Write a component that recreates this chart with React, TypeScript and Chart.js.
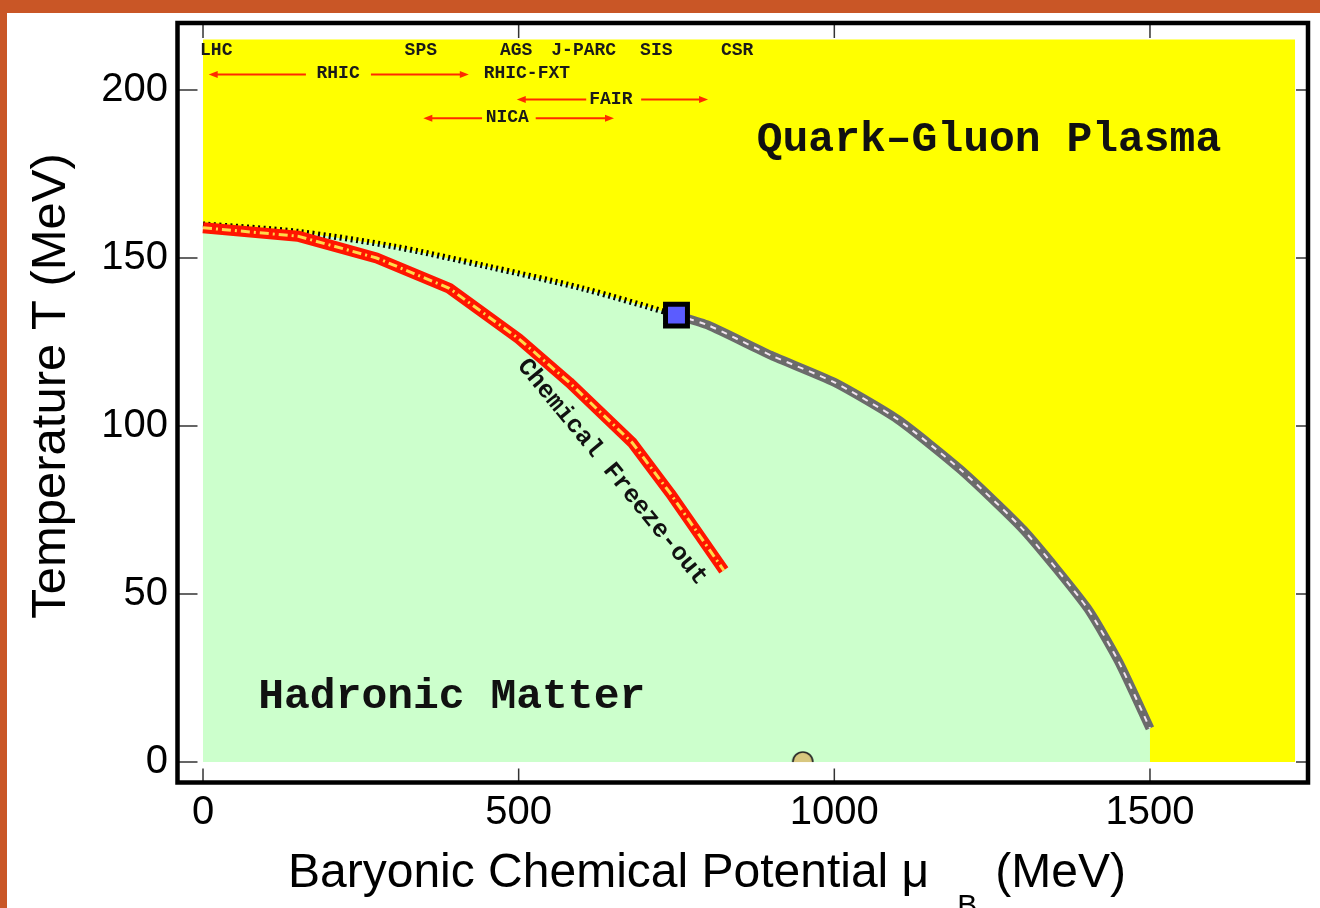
import React, { useEffect, useRef } from "react";
import { Chart, registerables } from "chart.js";

Chart.register(...registerables);

// ---------- data ----------
const xTickValues = [0, 500, 1000, 1500];
const yTickValues = [0, 50, 100, 150, 200];

// chemical freeze-out curve (muB, T)
const freezeOutMuB = [0, 150, 275, 390, 500, 580, 680, 740, 825];
const freezeOutT = [159, 156.5, 150, 141, 126, 113, 95, 80, 57];

// crossover (dotted) from muB = 0 up to critical point
const crossoverMuB = [0, 150, 300, 450, 600, 750];
const crossoverT = [160, 157.8, 153.5, 147.5, 141, 133];

// first-order transition (grey) from critical point to T ~ 0
const transitionMuB = [750, 800, 900, 1000, 1100, 1200, 1300, 1400, 1450, 1500];
const transitionT = [133, 130, 121, 113, 102, 87, 69, 46, 30, 10];

// critical point & nuclear matter
const criticalMuB = [750];
const criticalT = [133];
const nuclearMuB = [950];
const nuclearT = [0];

// QGP (yellow) region extent
const qgpMuB = [0, 1730];
const qgpT = [215, 215];

// facility labels (top row)
const facilityNames = ["LHC", "SPS", "AGS", "J-PARC", "SIS", "CSR"];
const facilityMuB = [21, 345, 496, 603, 718, 846];
const facilityT = [211.9, 211.9, 211.9, 211.9, 211.9, 211.9];

// program labels with arrows
const programNames = ["RHIC", "RHIC-FXT", "FAIR", "NICA"];
const programMuB = [214, 513, 646, 482];
const programT = [205, 205, 197.3, 191.7];

const arrowFromMuB = [163, 266, 607, 694, 442, 527];
const arrowToMuB = [9, 421, 497, 800, 349, 651];
const arrowT = [204.6, 204.6, 197.2, 197.2, 191.6, 191.6];

// region / curve labels
const regionNames = ["Quark\u2013Gluon Plasma", "Hadronic Matter"];
const regionMuB = [1245, 394];
const regionT = [185, 19.3];
const curveLabel = "Chemical Freeze-out";
const curveLabelMuB = 648;
const curveLabelT = 86.3;

// axis ranges
const X_MIN = -40.4;
const X_MAX = 1750.3;
const Y_MIN = -6.1;
const Y_MAX = 219.94;

const SANS = "'Liberation Sans', Arial, Helvetica, sans-serif";
const MONO = "'Liberation Mono', 'Courier New', Courier, monospace";

const pts = (xs: number[], ys: number[]) => xs.map((x, i) => ({ x, y: ys[i] }));

function makeHalfDisk(): HTMLCanvasElement {
  const c = document.createElement("canvas");
  c.width = 26;
  c.height = 26;
  const g = c.getContext("2d")!;
  g.beginPath();
  g.arc(13, 13, 10, Math.PI, 2 * Math.PI);
  g.closePath();
  g.fillStyle = "#d8c77f";
  g.fill();
  g.beginPath();
  g.arc(13, 13, 10, Math.PI, 2 * Math.PI);
  g.strokeStyle = "#222";
  g.lineWidth = 1.6;
  g.stroke();
  return c;
}

function drawArrow(ctx: CanvasRenderingContext2D, x1: number, y1: number, x2: number, y2: number) {
  const dir = Math.sign(x2 - x1);
  ctx.beginPath();
  ctx.moveTo(x1, y1);
  ctx.lineTo(x2 - dir * 6, y2);
  ctx.stroke();
  ctx.beginPath();
  ctx.moveTo(x2, y2);
  ctx.lineTo(x2 - dir * 9, y2 - 3.5);
  ctx.lineTo(x2 - dir * 9, y2 + 3.5);
  ctx.closePath();
  ctx.fill();
}

const overlayPlugin = {
  id: "overlay",
  beforeDraw(chart: any) {
    const ctx = chart.ctx as CanvasRenderingContext2D;
    ctx.save();
    ctx.fillStyle = "#ffffff";
    ctx.fillRect(0, 0, chart.width, chart.height);
    ctx.fillStyle = "#c95626";
    ctx.fillRect(0, 0, chart.width, 13);
    ctx.fillRect(0, 0, 7, chart.height);
    ctx.restore();
  },
  afterDatasetsDraw(chart: any) {
    const ctx = chart.ctx as CanvasRenderingContext2D;
    const xs = chart.scales.x;
    const ys = chart.scales.y;
    ctx.save();
    ctx.fillStyle = "#1a1a1a";
    ctx.textAlign = "center";
    ctx.textBaseline = "middle";
    ctx.font = `bold 18px ${MONO}`;
    facilityNames.forEach((n, i) => {
      ctx.fillText(n, xs.getPixelForValue(facilityMuB[i]), ys.getPixelForValue(facilityT[i]));
    });
    programNames.forEach((n, i) => {
      ctx.fillText(n, xs.getPixelForValue(programMuB[i]), ys.getPixelForValue(programT[i]));
    });
    ctx.strokeStyle = "#ff2a00";
    ctx.fillStyle = "#ff2a00";
    ctx.lineWidth = 2;
    arrowFromMuB.forEach((f, i) => {
      const y = ys.getPixelForValue(arrowT[i]);
      drawArrow(ctx, xs.getPixelForValue(f), y, xs.getPixelForValue(arrowToMuB[i]), y);
    });

    ctx.fillStyle = "#111";
    ctx.font = `bold 43px ${MONO}`;
    regionNames.forEach((n, i) => {
      ctx.fillText(n, xs.getPixelForValue(regionMuB[i]), ys.getPixelForValue(regionT[i]));
    });

    ctx.save();
    ctx.translate(xs.getPixelForValue(curveLabelMuB), ys.getPixelForValue(curveLabelT));
    ctx.rotate((50.6 * Math.PI) / 180);
    ctx.font = `bold 25px ${MONO}`;
    ctx.fillText(curveLabel, 0, 0);
    ctx.restore();
    ctx.restore();
  },
  afterDraw(chart: any) {
    const ctx = chart.ctx as CanvasRenderingContext2D;
    const a = chart.chartArea;
    const xs = chart.scales.x;
    const ys = chart.scales.y;
    ctx.save();
    // ticks (inward)
    ctx.strokeStyle = "#333";
    ctx.lineWidth = 1.5;
    xTickValues.forEach((v) => {
      const x = xs.getPixelForValue(v);
      ctx.beginPath();
      ctx.moveTo(x, a.bottom);
      ctx.lineTo(x, a.bottom - 14);
      ctx.moveTo(x, a.top);
      ctx.lineTo(x, a.top + 15);
      ctx.stroke();
    });
    yTickValues.forEach((v) => {
      const y = ys.getPixelForValue(v);
      ctx.beginPath();
      ctx.moveTo(a.left, y);
      ctx.lineTo(a.left + 20, y);
      ctx.moveTo(a.right, y);
      ctx.lineTo(a.right - 12, y);
      ctx.stroke();
    });
    // frame
    ctx.strokeStyle = "#000";
    ctx.lineWidth = 4.5;
    ctx.strokeRect(a.left, a.top, a.right - a.left, a.bottom - a.top);

    // axis titles
    ctx.fillStyle = "#000";
    ctx.font = `49px ${SANS}`;
    ctx.textBaseline = "alphabetic";
    ctx.save();
    ctx.translate(65, 386);
    ctx.rotate(-Math.PI / 2);
    ctx.textAlign = "center";
    ctx.fillText("Temperature T (MeV)", 0, 0);
    ctx.restore();

    ctx.textAlign = "left";
    const part1 = "Baryonic Chemical Potential \u03bc";
    const x0 = 288;
    const base = 887;
    ctx.font = `48px ${SANS}`;
    ctx.fillText(part1, x0, base);
    const w1 = ctx.measureText(part1).width;
    const subX = x0 + w1 + 28;
    ctx.font = `30px ${SANS}`;
    ctx.fillText("B", subX, base + 28);
    const wB = ctx.measureText("B").width;
    ctx.font = `48px ${SANS}`;
    ctx.fillText("(MeV)", subX + wB + 18, base);
    ctx.restore();
  },
};

const zeroPad = (s: any) => {
  s.paddingLeft = 0;
  s.paddingRight = 0;
  s.paddingTop = 0;
  s.paddingBottom = 0;
};

export default function App() {
  const ref = useRef<HTMLCanvasElement | null>(null);
  useEffect(() => {
    document.body.style.margin = "0";
    const canvas = ref.current!;
    const halfDisk = makeHalfDisk();
    const lastT = transitionMuB[transitionMuB.length - 1];
    const hadronBoundary = [
      ...pts(crossoverMuB, crossoverT),
      ...pts(transitionMuB.slice(1), transitionT.slice(1)),
      { x: lastT, y: 0 },
    ];
    const noPt = { pointRadius: 0, pointHoverRadius: 0 };
    const chart = new Chart(canvas, {
      type: "line",
      data: {
        datasets: [
          {
            label: "QGP",
            data: pts(qgpMuB, qgpT),
            fill: "origin",
            backgroundColor: "#ffff00",
            borderColor: "rgba(0,0,0,0)",
            borderWidth: 0,
            order: 20,
            ...noPt,
          },
          {
            label: "Hadronic",
            data: hadronBoundary,
            fill: "origin",
            backgroundColor: "#ccffcc",
            borderColor: "rgba(0,0,0,0)",
            borderWidth: 0,
            order: 19,
            ...noPt,
          },
          {
            label: "Crossover",
            data: pts(crossoverMuB, crossoverT),
            borderColor: "#000",
            borderWidth: 6,
            borderDash: [2, 3.5],
            borderCapStyle: "butt",
            fill: false,
            tension: 0.3,
            order: 12,
            ...noPt,
          },
          {
            label: "Transition",
            data: pts(transitionMuB, transitionT),
            borderColor: "#6b6b6b",
            borderWidth: 9,
            borderCapStyle: "butt",
            borderJoinStyle: "round",
            fill: false,
            tension: 0.2,
            order: 11,
            ...noPt,
          },
          {
            label: "Transition inner",
            data: pts(transitionMuB, transitionT),
            borderColor: "#f2e4f0",
            borderWidth: 2,
            borderDash: [6, 6],
            fill: false,
            tension: 0.2,
            order: 10,
            ...noPt,
          },
          {
            label: "Freeze-out",
            data: pts(freezeOutMuB, freezeOutT),
            borderColor: "#ff1500",
            borderWidth: 11,
            borderCapStyle: "butt",
            borderJoinStyle: "round",
            fill: false,
            order: 6,
            ...noPt,
          },
          {
            label: "Freeze-out inner",
            data: pts(freezeOutMuB, freezeOutT),
            borderColor: "#ffd94a",
            borderWidth: 3,
            borderDash: [9, 4, 2, 4],
            fill: false,
            order: 5,
            ...noPt,
          },
          {
            label: "Nuclear matter",
            data: pts(nuclearMuB, nuclearT),
            showLine: false,
            pointStyle: halfDisk as any,
            pointRadius: 10,
            order: 2,
            clip: false as any,
          },
          {
            label: "Critical point",
            data: pts(criticalMuB, criticalT),
            showLine: false,
            pointStyle: "rect",
            pointRadius: 15.5,
            pointBackgroundColor: "#5b5cff",
            pointBorderColor: "#000",
            pointBorderWidth: 5,
            order: 1,
          },
        ] as any,
      },
      options: {
        responsive: false,
        animation: false,
        events: [],
        layout: { autoPadding: false, padding: { top: 23, right: 12, left: 0, bottom: 0 } },
        plugins: {
          legend: { display: false },
          tooltip: { enabled: false },
          title: { display: false },
        },
        elements: { line: { tension: 0 } },
        scales: {
          x: {
            type: "linear",
            min: X_MIN,
            max: X_MAX,
            grid: { display: false, drawTicks: false },
            border: { display: false },
            afterBuildTicks: (s: any) => {
              s.ticks = xTickValues.map((v) => ({ value: v }));
            },
            afterFit: (s: any) => {
              s.height = 125.5;
              zeroPad(s);
            },
            ticks: {
              autoSkip: false,
              maxRotation: 0,
              padding: 6,
              color: "#000",
              font: { family: SANS, size: 40 },
              callback: (v: any) => String(v),
            },
          },
          y: {
            type: "linear",
            min: Y_MIN,
            max: Y_MAX,
            grid: { display: false, drawTicks: false },
            border: { display: false },
            afterBuildTicks: (s: any) => {
              s.ticks = yTickValues.map((v) => ({ value: v }));
            },
            afterFit: (s: any) => {
              s.width = 177.5;
              zeroPad(s);
            },
            ticks: {
              autoSkip: false,
              padding: 9.5,
              color: "#000",
              font: { family: SANS, size: 40 },
              callback: (v: any) => String(v),
            },
          },
        },
      } as any,
      plugins: [overlayPlugin],
    });
    return () => chart.destroy();
  }, []);
  return <canvas ref={ref} width={1320} height={908} style={{ display: "block" }} />;
}
